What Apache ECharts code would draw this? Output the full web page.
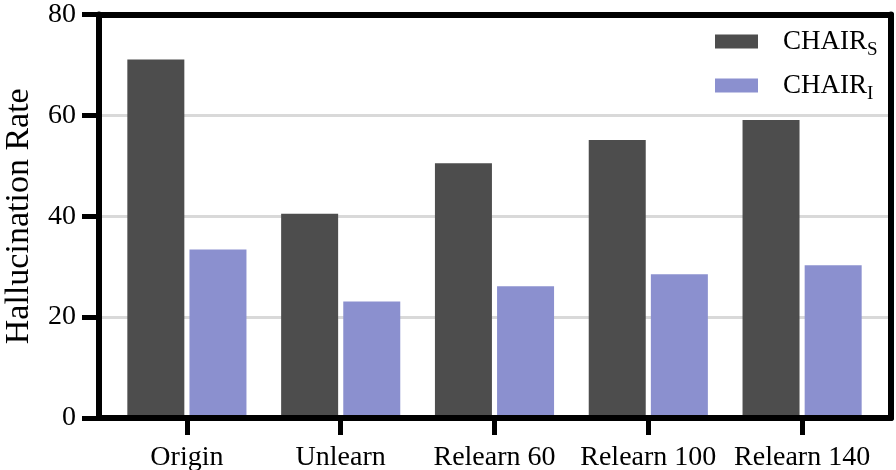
<!DOCTYPE html>
<html>
<head>
<meta charset="utf-8">
<script src="https://cdn.jsdelivr.net/npm/echarts@6/dist/echarts.min.js"></script>
<style>
  html, body { margin: 0; padding: 0; background: #fff; }
  #main { width: 896px; height: 470px; }
</style>
</head>
<body>
<div id="main"></div>
<script>
// 数据
var categories = ['Origin', 'Unlearn', 'Relearn 60', 'Relearn 100', 'Relearn 140'];
var seriesNames = ['CHAIR_S', 'CHAIR_I'];
var chairS = [71.1, 40.5, 50.5, 55.1, 59.1];
var chairI = [33.4, 23.1, 26.1, 28.5, 30.3];
var yTicks = [0, 20, 40, 60, 80];

var FONT = 'Liberation Serif';
var colorList = ['#4d4d4d', '#8b90cf'];

var myChart = echarts.init(document.getElementById('main'));

var frameLine = { show: true, onZero: false, lineStyle: { color: '#000', width: 6 } };

var option = {
  backgroundColor: '#fff',
  animation: false,
  textStyle: { fontFamily: FONT, color: '#000' },
  grid: [
    // 外框 + y轴
    { left: 99, right: 5, top: 14.5, bottom: 52, outerBoundsMode: 'none' },
    // 柱子所在区域
    { left: 110, right: 17, top: 14.5, bottom: 52, outerBoundsMode: 'none' }
  ],
  legend: {
    orient: 'vertical',
    left: 710,
    top: 23,
    itemWidth: 43,
    itemHeight: 14,
    itemGap: 12,
    icon: 'rect',
    data: seriesNames,
    formatter: function (n) {
      return '{a|CHAIR}{s|' + n.split('_')[1] + '}';
    },
    textStyle: {
      color: '#000',
      fontFamily: FONT,
      padding: [0, 0, 0, 20],
      rich: {
        a: { fontSize: 27, fontFamily: FONT, color: '#000' },
        s: { fontSize: 19, fontFamily: FONT, color: '#000', padding: [18, 0, 0, 0] }
      }
    }
  },
  xAxis: [
    {
      gridIndex: 0, type: 'value', min: 0, max: 1, position: 'bottom', z: 5,
      axisLine: frameLine, axisTick: { show: false }, axisLabel: { show: false }, splitLine: { show: false }
    },
    {
      gridIndex: 0, type: 'value', min: 0, max: 1, position: 'top',
      axisLine: frameLine, axisTick: { show: false }, axisLabel: { show: false }, splitLine: { show: false }
    },
    {
      gridIndex: 1, type: 'category', data: categories, position: 'bottom', z: 5,
      axisLine: { show: false },
      axisTick: { show: true, alignWithLabel: true, length: 17, lineStyle: { color: '#000', width: 5 } },
      axisLabel: { interval: 0, fontSize: 28, fontFamily: FONT, color: '#000', margin: 26 },
      splitLine: { show: false }
    }
  ],
  yAxis: [
    {
      gridIndex: 0, type: 'value', min: yTicks[0], max: yTicks[yTicks.length - 1], interval: 20,
      position: 'left',
      name: 'Hallucination Rate',
      nameLocation: 'middle',
      nameGap: 63,
      nameTextStyle: { fontSize: 34, fontFamily: FONT, color: '#000' },
      axisLine: frameLine,
      axisTick: { show: true, length: 17, lineStyle: { color: '#000', width: 5 } },
      axisLabel: { fontSize: 28, fontFamily: FONT, color: '#000', margin: 23 },
      splitLine: { show: true, lineStyle: { color: '#d9d9d9', width: 3 } }
    },
    {
      gridIndex: 0, type: 'value', min: 0, max: 80, position: 'right',
      axisLine: frameLine, axisTick: { show: false }, axisLabel: { show: false }, splitLine: { show: false }
    },
    {
      gridIndex: 1, type: 'value', min: 0, max: 80, show: false
    }
  ],
  series: [
    {
      name: seriesNames[0],
      type: 'bar',
      xAxisIndex: 2,
      yAxisIndex: 2,
      barWidth: 57,
      barGap: '9%',
      itemStyle: { color: colorList[0] },
      data: chairS
    },
    {
      name: seriesNames[1],
      type: 'bar',
      xAxisIndex: 2,
      yAxisIndex: 2,
      barWidth: 57,
      barGap: '9%',
      itemStyle: { color: colorList[1] },
      data: chairI
    }
  ]
};

myChart.setOption(option);
</script>
</body>
</html>
